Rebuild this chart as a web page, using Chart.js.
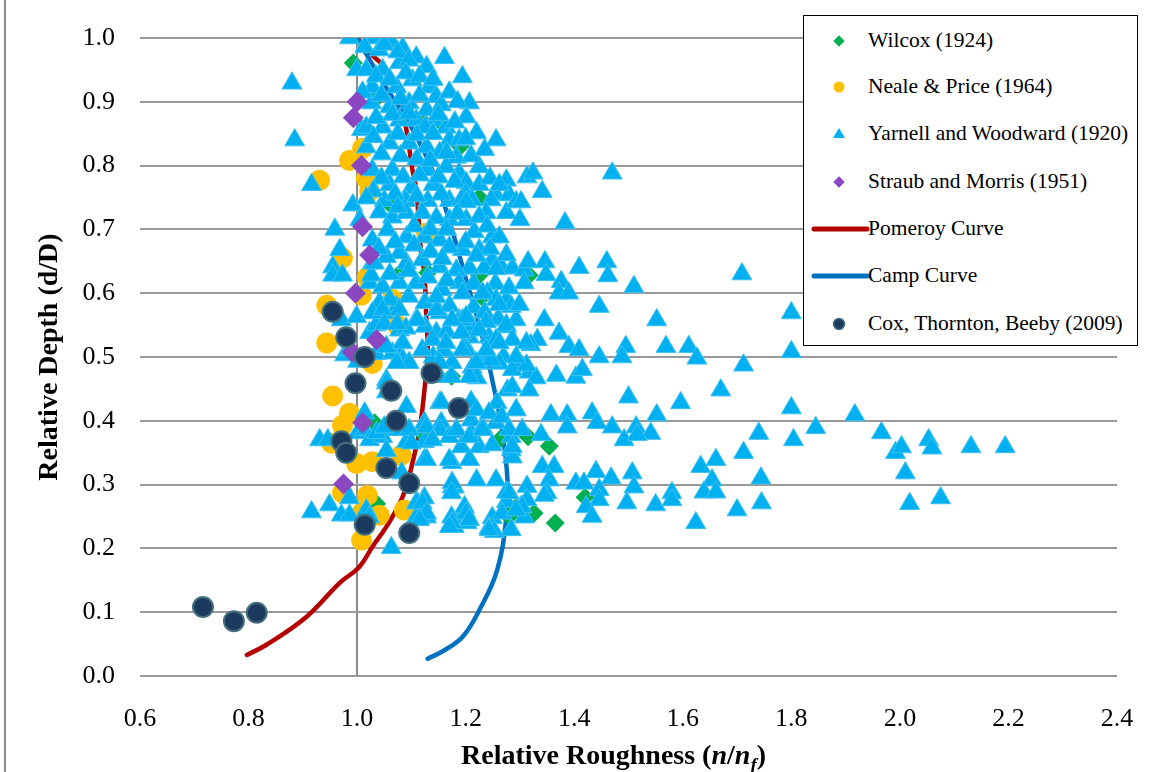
<!DOCTYPE html>
<html lang="en">
<head>
<meta charset="UTF-8">
<title>Relative Roughness vs Relative Depth</title>
<style>
    * { margin: 0; padding: 0; box-sizing: border-box; }
    body { background: #FFFFFF; font-family: 'Liberation Serif', 'Times New Roman', serif; }
    .wrap { position: relative; width: 1152px; height: 772px; background: #FFFFFF; }
    .edge { position: absolute; left: 4px; top: 0; width: 2px; height: 772px; background: #8c8c8c; }
    .xtitle { position: absolute; left: 461px; top: 741px; font-size: 28px; line-height: 1; font-weight: bold; color: #000; white-space: nowrap; }
    .xtitle sub { font-size: 19px; }
    .legend { position: absolute; left: 803px; top: 15px; width: 335px; height: 331px; background: #FFFFFF; border: 1.5px solid #000; }
    .item { position: absolute; left: 0; height: 30px; width: 330px; font-size: 21.5px; color: #000; }
    .item span { position: absolute; left: 64px; top: 1px; white-space: nowrap; }
    .item svg { position: absolute; left: 3px; top: 0; }
</style>
</head>
<body>
<div class="wrap">
    <canvas id="chart" width="1152" height="772"></canvas>
    <div class="edge"></div>
    <div class="xtitle">Relative Roughness (<i>n</i>/<i>n<sub>f</sub></i>)</div>
    <div class="legend" id="legend"></div>
</div>

<script src="https://cdn.jsdelivr.net/npm/chart.js@4.4.0/dist/chart.umd.min.js"></script>
<script>
// axis ranges
const xTicks = [0.6, 0.8, 1.0, 1.2, 1.4, 1.6, 1.8, 2.0, 2.2, 2.4];
const yTicks = [0.0, 0.1, 0.2, 0.3, 0.4, 0.5, 0.6, 0.7, 0.8, 0.9, 1.0];

// series (x = n/nf, y = d/D)
const wilcox = [[0.993,0.961],[1.036,0.906],[1.12,0.87],[1.157,0.866],[1.19,0.83],[1.225,0.75],[1.06,0.74],
    [1.078,0.631],[1.13,0.632],[1.225,0.628],[1.317,0.628],[1.23,0.594],[1.174,0.47],[1.032,0.397],[1.12,0.38],
    [1.262,0.37],[1.315,0.375],[1.354,0.36],[1.036,0.27],[1.28,0.25],[1.293,0.265],[1.326,0.255],[1.365,0.24],[1.42,0.28]];

const neale = [[0.931,0.777],[0.986,0.808],[1.01,0.827],[1.017,0.78],[1.023,0.76],[0.973,0.655],[1.019,0.625],
    [1.128,0.694],[0.944,0.581],[1.008,0.597],[0.944,0.522],[1.065,0.59],[1.074,0.55],[1.028,0.49],[0.955,0.439],
    [0.986,0.412],[0.973,0.393],[0.953,0.365],[0.999,0.333],[1.028,0.336],[1.081,0.346],[1.019,0.283],[1.041,0.252],
    [1.008,0.213],[0.973,0.287],[1.087,0.26],[1.008,0.255]];

const yarnell = [
    [0.88,0.929],[0.885,0.84],[0.916,0.77],[0.959,0.70],[0.968,0.668],[0.955,0.641],[0.955,0.628],[0.973,0.628],
    [0.971,0.558],[0.992,0.738],[0.986,1.0],[0.999,0.95],[1.008,0.856],
    [0.931,0.37],[0.946,0.37],[0.916,0.257],[0.949,0.268],[0.986,0.279],[0.971,0.252],[0.986,0.252],[1.017,0.26],
    [1.023,0.249],[1.063,0.201],[0.977,0.503],[0.986,0.511],[1.001,0.493],[0.999,0.563],[1.001,0.381],
    // upper core
    [1.032,1.0],[1.063,0.994],[1.014,0.986],[1.041,0.981],[1.084,0.984],[1.017,0.95],[1.047,0.95],[1.078,0.961],
    [1.109,0.97],[1.128,0.955],[1.161,0.969],[1.194,0.939],[1.028,0.923],[1.073,0.923],[1.102,0.934],[1.133,0.923],
    [1.146,0.908],[1.155,0.895],[1.207,0.898],[1.201,0.876],[1.027,0.898],[1.06,0.892],[1.096,0.898],[1.128,0.887],
    [1.017,0.86],[1.047,0.86],[1.078,0.871],[1.109,0.871],[1.142,0.871],[1.164,0.86],[1.17,0.84],[1.188,0.84],
    [1.22,0.851],[1.256,0.84],[1.017,0.829],[1.06,0.835],[1.096,0.835],[1.128,0.829],[1.152,0.82],[1.183,0.813],
    [1.225,0.798],[1.275,0.777],[1.028,0.793],[1.065,0.793],[1.128,0.793],[1.164,0.798],[1.188,0.788],[1.201,0.773],
    [1.313,0.782],[1.06,0.77],[1.1,0.765],[1.14,0.77],[1.17,0.745],[1.13,0.745],[1.09,0.745],[1.05,0.745],
    [1.05,0.99],[1.075,0.978],[1.095,0.965],[1.035,0.94],[1.06,0.935],[1.09,0.945],[1.115,0.94],[1.14,0.935],
    [1.01,0.915],[1.045,0.91],[1.08,0.905],[1.115,0.91],[1.17,0.915],[1.185,0.9],[1.035,0.875],[1.065,0.88],
    [1.095,0.882],[1.125,0.86],[1.15,0.88],[1.18,0.868],[1.03,0.845],[1.075,0.85],[1.11,0.848],[1.14,0.85],
    [1.2,0.842],[1.045,0.818],[1.08,0.815],[1.11,0.81],[1.135,0.808],[1.165,0.82],[1.21,0.815],[1.235,0.825],
    [1.045,0.78],[1.085,0.782],[1.115,0.785],[1.15,0.782],[1.18,0.775],[1.225,0.77],[1.245,0.78],
    [1.03,0.76],[1.07,0.755],[1.11,0.752],[1.155,0.755],[1.2,0.755],[1.255,0.755],
    // middle core
    [1.28,0.754],[1.275,0.726],[1.262,0.77],[1.247,0.746],[1.293,0.743],[1.238,0.726],[1.212,0.746],[1.192,0.746],
    [1.201,0.715],[1.17,0.715],[1.249,0.688],[1.216,0.696],[1.194,0.668],[1.225,0.668],[1.249,0.652],[1.266,0.641],
    [1.286,0.639],[1.308,0.636],[1.234,0.639],[1.207,0.639],[1.183,0.636],[1.152,0.641],[1.12,0.652],[1.091,0.647],
    [1.078,0.663],[1.054,0.657],[1.028,0.647],[1.017,0.749],[1.041,0.727],[1.065,0.719],[1.091,0.726],[1.12,0.726],
    [1.146,0.718],[1.056,0.699],[1.091,0.688],[1.124,0.688],[1.152,0.683],[1.028,0.683],[1.023,0.616],[1.047,0.61],
    [1.078,0.616],[1.109,0.616],[1.157,0.605],[1.188,0.616],[1.041,0.585],[1.073,0.578],[1.109,0.558],[1.152,0.569],
    [1.188,0.558],[1.275,0.589],[1.293,0.558],[1.243,0.558],[1.207,0.531],[1.243,0.531],[1.275,0.547],[1.146,0.538],
    [1.023,0.538],[1.05,0.569],[1.078,0.542],[1.262,0.688],[1.201,0.743],
    [1.005,0.715],[1.075,0.735],[1.105,0.705],[1.135,0.7],[1.165,0.7],[1.185,0.725],[1.225,0.72],[1.24,0.705],
    [1.04,0.67],[1.07,0.68],[1.105,0.675],[1.135,0.665],[1.17,0.672],[1.2,0.68],[1.245,0.67],[1.275,0.66],
    [1.06,0.63],[1.095,0.635],[1.13,0.625],[1.165,0.62],[1.215,0.615],[1.255,0.615],
    [1.06,0.59],[1.095,0.595],[1.125,0.585],[1.17,0.58],[1.215,0.578],[1.235,0.57],
    [1.035,0.55],[1.09,0.545],[1.125,0.548],[1.165,0.54],[1.21,0.55],[1.26,0.56],
    [1.035,0.505],[1.075,0.51],[1.14,0.5],[1.16,0.51],[1.235,0.5],[1.27,0.5],
    // right of core, upper
    [1.324,0.788],[1.341,0.759],[1.47,0.788],[1.302,0.743],[1.30,0.715],[1.383,0.71],[1.315,0.649],[1.346,0.649],
    [1.348,0.629],[1.376,0.618],[1.409,0.64],[1.46,0.649],[1.462,0.627],[1.51,0.61],[1.372,0.6],[1.39,0.6],[1.709,0.63],
    // middle band
    [1.28,0.608],[1.24,0.6],[1.256,0.59],[1.284,0.579],[1.446,0.579],[1.552,0.558],[1.8,0.569],[1.345,0.558],
    [1.275,0.55],[1.194,0.558],[1.372,0.537],[1.332,0.527],[1.39,0.516],[1.409,0.511],[1.32,0.519],[1.446,0.5],
    [1.495,0.516],[1.488,0.5],[1.569,0.516],[1.611,0.516],[1.626,0.498],[1.712,0.487],[1.8,0.508],[1.203,0.511],
    [1.225,0.49],[1.262,0.49],[1.299,0.487],[1.317,0.476],[1.33,0.467],[1.367,0.471],[1.403,0.468],[1.415,0.48],
    [1.277,0.448],[1.317,0.448],[1.5,0.437],[1.596,0.428],[1.67,0.448],[1.8,0.42],[1.21,0.43],[1.258,0.428],
    [1.293,0.417],[1.357,0.409],[1.387,0.409],[1.433,0.412],[1.442,0.397],[1.387,0.39],[1.552,0.409],[1.47,0.39],
    [1.514,0.39],[1.541,0.38],[1.492,0.37],[1.516,0.378],[1.74,0.38],[1.804,0.37],[1.339,0.378],[1.284,0.354],
    [1.286,0.343],[1.712,0.35],[1.633,0.328],[1.661,0.339],[1.654,0.307],[1.639,0.288],[1.661,0.288],[1.744,0.31],
    [1.341,0.328],[1.363,0.328],[1.354,0.307],[1.35,0.287],[1.313,0.297],[1.313,0.276],[1.302,0.265],[1.44,0.32],
    [1.468,0.31],[1.403,0.302],[1.418,0.302],[1.446,0.292],[1.446,0.276],[1.422,0.265],[1.433,0.25],[1.507,0.318],
    [1.51,0.296],[1.497,0.271],[1.55,0.268],[1.58,0.287],[1.58,0.276],[1.624,0.24],[1.7,0.26],[1.745,0.271],
    [1.249,0.248],[1.243,0.232],[1.194,0.25],[1.179,0.234],[1.198,0.26],[1.22,0.307],[1.207,0.339],[1.175,0.334],
    [1.175,0.296],[1.275,0.288],[1.275,0.273],[1.345,0.283],
    // far right
    [1.845,0.389],[1.917,0.409],[1.966,0.381],[1.992,0.35],[2.003,0.359],[2.053,0.37],[2.059,0.357],[2.131,0.359],
    [2.194,0.359],[2.01,0.318],[2.018,0.27],[2.075,0.279],
    // lower core
    [1.026,0.628],[1.032,0.647],[1.028,0.569],[1.047,0.574],[1.05,0.552],[1.078,0.574],[1.074,0.552],[1.111,0.558],
    [1.084,0.495],[1.065,0.506],[1.054,0.464],[1.054,0.445],[1.091,0.422],[1.014,0.386],[1.023,0.37],[1.047,0.375],
    [1.054,0.353],[1.073,0.386],[1.091,0.367],[1.124,0.397],[1.124,0.367],[1.124,0.339],[1.111,0.271],[1.124,0.279],
    [1.109,0.249],[1.128,0.249],[1.179,0.296],[1.174,0.249],[1.198,0.265],[1.203,0.24],[1.175,0.24],[1.152,0.428],
    [1.155,0.397],[1.185,0.383],[1.21,0.381],[1.21,0.401],[1.231,0.39],[1.256,0.397],[1.284,0.375],[1.192,0.359],
    [1.225,0.359],[1.249,0.362],[1.286,0.359],[1.256,0.307],[1.28,0.287],[1.253,0.226],[1.284,0.229],[1.308,0.249],
    [1.157,0.654],[1.22,0.659],[1.256,0.638],[1.308,0.616],[1.262,0.582],[1.299,0.582],[1.238,0.555],[1.201,0.563],
    [1.175,0.558],[1.146,0.574],[1.146,0.594],[1.194,0.6],[1.231,0.6],[1.192,0.538],[1.225,0.542],[1.256,0.527],
    [1.286,0.527],[1.312,0.522],[1.201,0.511],[1.175,0.491],[1.212,0.484],[1.247,0.495],[1.286,0.48],[1.312,0.487],
    [1.152,0.469],[1.221,0.467],[1.286,0.453],
    [1.014,0.412],[1.036,0.381],[1.096,0.386],[1.05,0.39],[1.1,0.365],[1.082,0.318],[1.109,0.271],[1.118,0.249],
    [1.054,0.516],[1.084,0.522],[1.096,0.491],[1.073,0.491],[1.12,0.511],[1.054,0.459],[1.139,0.527],[1.164,0.522],
    [1.152,0.491],[1.174,0.469],[1.207,0.469],[1.22,0.491],[1.194,0.511],[1.238,0.511],[1.262,0.522],[1.293,0.5],
    [1.155,0.429],[1.152,0.386],[1.128,0.39],[1.139,0.37],[1.17,0.375],[1.183,0.386],[1.207,0.375],[1.231,0.386],
    [1.22,0.417],[1.243,0.412],[1.267,0.406],[1.293,0.417],[1.28,0.386],[1.304,0.386],[1.128,0.339],[1.17,0.339],
    [1.207,0.339],[1.175,0.303],[1.174,0.287],[1.304,0.265],[1.12,0.271],[1.128,0.255],[1.115,0.245],[1.17,0.234],
    [1.201,0.255],[1.207,0.245],[1.243,0.229],[1.267,0.255],[1.293,0.26]
];

const straub = [[1.0,0.9],[0.993,0.875],[1.008,0.8],[1.01,0.704],[1.023,0.66],[0.997,0.6],[0.991,0.508],
    [1.036,0.527],[1.01,0.397],[0.975,0.301]];

const pomeroyX = [0.797,0.833,0.907,0.968,1.004,1.03,1.054,1.084,1.102,1.115,1.124,1.13,1.127,1.124,1.118,1.109,1.102,1.09,1.073,1.05,1.028,1.0];
const pomeroyY = [0.033,0.049,0.093,0.146,0.171,0.205,0.234,0.281,0.334,0.386,0.448,0.51,0.57,0.63,0.663,0.762,0.793,0.86,0.922,0.955,0.973,1.0];

const campX = [1.13,1.16,1.194,1.225,1.258,1.275,1.277,1.267,1.249,1.231,1.201,1.175,1.14,1.1,1.047,1.0];
const campY = [0.027,0.04,0.061,0.103,0.166,0.249,0.307,0.386,0.464,0.531,0.621,0.699,0.79,0.86,0.931,1.0];

const cox = [[0.716,0.108],[0.773,0.086],[0.815,0.099],[0.955,0.571],[0.98,0.531],[1.014,0.5],[0.997,0.459],
    [1.063,0.447],[1.072,0.4],[1.137,0.475],[1.187,0.42],[0.971,0.368],[0.98,0.35],[1.054,0.326],[1.096,0.302],
    [1.014,0.237],[1.096,0.224]];

const labels = ['Wilcox (1924)', 'Neale & Price (1964)', 'Yarnell and Woodward (1920)', 'Straub and Morris (1951)',
    'Pomeroy Curve', 'Camp Curve', 'Cox, Thornton, Beeby (2009)'];

const pts = arr => arr.map(p => ({ x: p[0], y: p[1] }));
const curve = (xs, ys) => xs.map((x, i) => ({ x: x, y: ys[i] }));

Chart.defaults.font.family = "'Liberation Serif', 'Times New Roman', serif";
Chart.defaults.color = '#000';

new Chart(document.getElementById('chart'), {
    type: 'scatter',
    data: {
        datasets: [
            { label: labels[6], data: pts(cox), order: 0, pointStyle: 'circle', pointRadius: 10,
              backgroundColor: '#1b3a5e', borderColor: '#45707e', borderWidth: 2 },
            { label: labels[3], data: pts(straub), order: 1, pointStyle: 'rectRot', pointRadius: 10.5,
              backgroundColor: '#8b47c1', borderWidth: 0 },
            { label: labels[2], data: pts(yarnell), order: 2, pointStyle: 'triangle', pointRadius: 11.5,
              backgroundColor: '#00b0f0', borderColor: '#3fc2f2', borderWidth: 1 },
            { label: labels[1], data: pts(neale), order: 3, pointStyle: 'circle', pointRadius: 10.5,
              backgroundColor: '#ffc000', borderWidth: 0 },
            { label: labels[0], data: pts(wilcox), order: 4, pointStyle: 'rectRot', pointRadius: 9.5,
              backgroundColor: '#00b050', borderWidth: 0 },
            { label: labels[5], data: curve(campX, campY), order: 5, showLine: true, pointRadius: 0,
              borderColor: '#0070c0', borderWidth: 4.5, tension: 0.4, borderCapStyle: 'round' },
            { label: labels[4], data: curve(pomeroyX, pomeroyY), order: 6, showLine: true, pointRadius: 0,
              borderColor: '#b40000', borderWidth: 4.5, tension: 0.4, borderCapStyle: 'round' }
        ]
    },
    options: {
        responsive: false,
        animation: false,
        devicePixelRatio: 1,
        layout: { padding: { left: 0, top: 38, right: 35, bottom: 0 } },
        plugins: { legend: { display: false }, tooltip: { enabled: false } },
        scales: {
            x: {
                type: 'linear', min: xTicks[0], max: xTicks[xTicks.length - 1],
                afterBuildTicks: s => { s.ticks = xTicks.map(v => ({ value: v })); },
                afterFit: s => { s.height = 96; },
                border: { display: false },
                grid: {
                    drawTicks: true, tickLength: 25, tickColor: 'rgba(0,0,0,0)', lineWidth: 2,
                    color: c => (c.tick && Math.abs(c.tick.value - 1) < 1e-9) ? '#8c8c8c' : 'rgba(0,0,0,0)'
                },
                ticks: { padding: 3, font: { size: 26 }, callback: v => Number(v).toFixed(1) }
            },
            y: {
                type: 'linear', min: yTicks[0], max: yTicks[yTicks.length - 1],
                afterBuildTicks: s => { s.ticks = yTicks.map(v => ({ value: v })); },
                afterFit: s => { s.width = 140; },
                border: { display: false },
                grid: { drawTicks: true, tickLength: 22, tickColor: 'rgba(0,0,0,0)', color: '#999999', lineWidth: 2 },
                ticks: { padding: 3, font: { size: 26 }, callback: v => Number(v).toFixed(1) },
                title: { display: true, text: 'Relative Depth (d/D)', font: { size: 28, weight: 'bold' },
                         padding: { top: 33, bottom: 0 } }
            }
        }
    }
});

// legend box drawn as html, markers as small svgs
const markers = [
    '<rect x="28" y="10" width="8" height="8" transform="rotate(45 32 14)" fill="#00b050"/>',
    '<circle cx="32" cy="14" r="5.5" fill="#ffc000"/>',
    '<polygon points="32,8 38,18 26,18" fill="#00b0f0"/>',
    '<rect x="28" y="10" width="8" height="8" transform="rotate(45 32 14)" fill="#8b47c1"/>',
    '<line x1="7" y1="14" x2="60" y2="14" stroke="#b40000" stroke-width="5" stroke-linecap="round"/>',
    '<line x1="7" y1="14" x2="60" y2="14" stroke="#0070c0" stroke-width="5" stroke-linecap="round"/>',
    '<circle cx="32" cy="14" r="5.5" fill="#1b3a5e" stroke="#45707e" stroke-width="1.5"/>'
];
const rowTop = [11, 57, 104, 152, 199, 246, 294];
const legend = document.getElementById('legend');
labels.forEach((t, i) => {
    const d = document.createElement('div');
    d.className = 'item';
    d.style.top = rowTop[i] + 'px';
    d.innerHTML = '<svg width="64" height="28">' + markers[i] + '</svg><span></span>';
    d.querySelector('span').textContent = t;
    legend.appendChild(d);
});
</script>
</body>
</html>
